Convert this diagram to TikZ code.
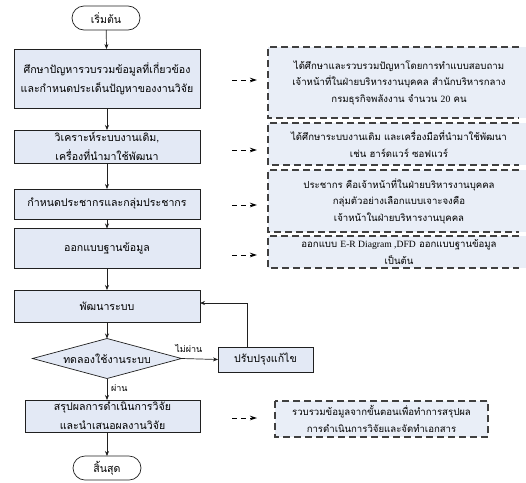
\documentclass[tikz,border=0pt]{standalone}
\usepackage{fontspec}
\newfontfamily\thaifont[Script=Thai]{Loma}
\newfontfamily\latinfont{Liberation Serif}
\usetikzlibrary{shapes.geometric,arrows.meta}
\definecolor{boxfill}{HTML}{E3E9F5}
\definecolor{dashfill}{HTML}{E9EEF7}
\definecolor{dashline}{HTML}{404040}
\definecolor{lineclr}{HTML}{202020}
\begin{document}
\begin{tikzpicture}[x=1pt,y=-1pt,
  every node/.style={font=\thaifont\fontsize{10.6}{19}\selectfont, inner sep=0pt, outer sep=0pt, text=black},
  procbox/.style={draw=lineclr, line width=0.7pt, fill=boxfill, align=center},
  termbox/.style={draw=lineclr, line width=0.7pt, fill=white, rounded corners=12pt, minimum width=68pt, minimum height=24pt},
  decbox/.style={draw=lineclr, line width=0.7pt, fill=boxfill, diamond, minimum width=149pt, minimum height=40pt, shape aspect=3.7},
  notebox/.style={align=center, font=\thaifont\fontsize{9.6}{16.5}\selectfont},
  notefill/.style={fill=dashfill},
  noteline/.style={draw=dashline, line width=1.5pt, dash pattern=on 7pt off 4pt},
  flow/.style={draw=lineclr, line width=0.7pt, -{Stealth[length=5pt,width=4pt]}},
  hint/.style={draw=black, line width=1pt, dash pattern=on 5pt off 4pt, -{Stealth[length=7pt,width=4.5pt]}},
  lbl/.style={font=\thaifont\fontsize{9}{10}\selectfont}
]
\useasboundingbox (0,0) rectangle (526,482);

% note backgrounds (open on the right, running to the page edge)
\fill[notefill] (268,47) rectangle (526,118);
\fill[notefill] (268,123) rectangle (526,165);
\fill[notefill] (268,170) rectangle (526,232);
\fill[notefill] (268,236) rectangle (526,268);

% main column
\node[termbox] (start) at (106,18) {เริ่มต้น};
\node[procbox, minimum width=186pt, minimum height=59pt] (b1) at (107,78.5) {ศึกษาปัญหารวบรวมข้อมูลที่เกี่ยวข้อง\\และกำหนดประเด็นปัญหาของงานวิจัย};
\node[procbox, minimum width=186pt, minimum height=33pt] (b2) at (107,146.5) {วิเคราะห์ระบบงานเดิม,\\เครื่องที่นำมาใช้พัฒนา};
\node[procbox, minimum width=186pt, minimum height=30pt] (b3) at (107,204) {กำหนดประชากรและกลุ่มประชากร};
\node[procbox, minimum width=186pt, minimum height=40pt] (b4) at (107,248.5) {ออกแบบฐานข้อมูล};
\node[procbox, minimum width=186pt, minimum height=32pt] (b5) at (107,306) {พัฒนาระบบ};
\node[decbox] (dec) at (107,358.5) {ทดลองใช้งานระบบ};
\node[procbox, minimum width=95pt, minimum height=25pt] (fix) at (265.5,359.5) {ปรับปรุงแก้ไข};
\node[procbox, minimum width=175pt, minimum height=32pt] (b6) at (112.5,416) {สรุปผลการดำเนินการวิจัย\\และนำเสนอผลงานวิจัย};
\node[termbox] (stop) at (107,468) {สิ้นสุด};

\draw[flow] (start) -- (b1);
\draw[flow] (b1) -- (b2);
\draw[flow] (b2) -- (b3);
\draw[flow] (b3) -- (b4);
\draw[flow] (b4) -- (b5);
\draw[flow] (b5) -- (dec);
\draw[flow] (dec.south) -- (dec.south |- b6.north) node[lbl, pos=0.45, right=4pt] (pass) {ผ่าน};
\draw[flow] (dec.east) -- (fix.west) node[lbl, pos=0.2, above=6pt] (fail) {ไม่ผ่าน};
\coordinate (loopup) at (247,303);
\draw[flow] (fix.north -| loopup) -- (loopup) -- (loopup -| b5.east);
\draw[flow] (b6.south -| stop.north) -- (stop.north);

% notes (text)
\node[notebox] (d1) at (399,82.5) {ได้ศึกษาและรวบรวมปัญหาโดยการทำแบบสอบถาม\\เจ้าหน้าที่ในฝ่ายบริหารงานบุคคล สำนักบริหารกลาง\\กรมธุรกิจพลังงาน จำนวน {\latinfont 20} คน};
\node[notebox] (d2) at (399,144) {ได้ศึกษาระบบงานเดิม และเครื่องมือที่นำมาใช้พัฒนา\\เช่น ฮาร์ดแวร์ ซอฟแวร์};
\node[notebox] (d3) at (399,201) {ประชากร คือเจ้าหน้าที่ในฝ่ายบริหารงานบุคคล\\กลุ่มตัวอย่างเลือกแบบเจาะจงคือ\\เจ้าหน้าในฝ่ายบริหารงานบุคคล};
\node[notebox] (d4) at (399,252) {ออกแบบ {\latinfont E-R Diagram ,DFD} ออกแบบฐานข้อมูล\\เป็นต้น};
\node[notebox, minimum width=213pt, minimum height=36pt, fill=dashfill] (d6) at (381.5,419) {รวบรวมข้อมูลจากขั้นตอนเพื่อทำการสรุปผล\\การดำเนินการวิจัยและจัดทำเอกสาร};

% open dashed borders
\draw[noteline] (519,47) -- (268,47) -- (268,118) -- (519,118);
\draw[noteline] (519,123) -- (268,123) -- (268,165) -- (519,165);
\draw[noteline] (519,170) -- (268,170) -- (268,232) -- (519,232);
\draw[noteline] (519,236) -- (268,236) -- (268,268) -- (519,268);
\draw[noteline] (d6.north west) rectangle (d6.south east);

% hint arrows
\foreach \n/\y in {1/80,2/150,3/205,4/255,6/418}{
  \coordinate (h\n s) at (232,\y);
  \coordinate (h\n e) at (257,\y);
  \draw[hint] (h\n s) -- (h\n e);
}
\end{tikzpicture}
\end{document}
